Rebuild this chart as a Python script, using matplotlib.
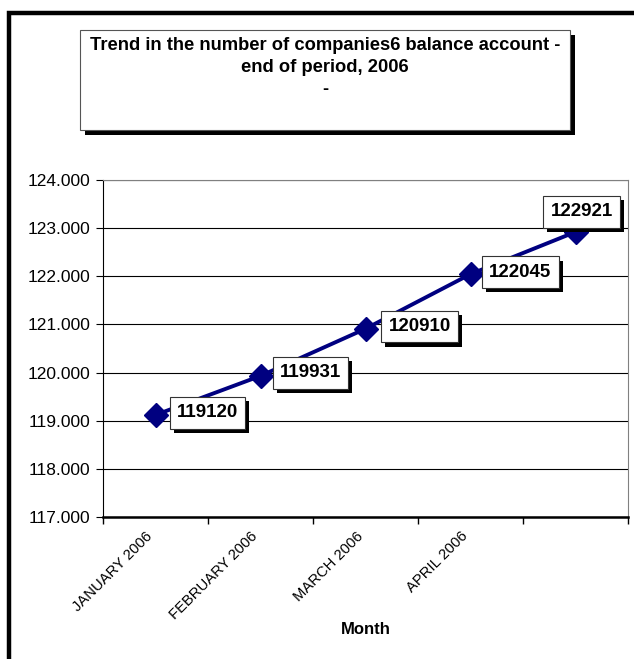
import matplotlib
matplotlib.use('Agg')
import matplotlib.pyplot as plt
import matplotlib.patheffects as pe
import matplotlib.transforms as mtransforms
from matplotlib.patches import Rectangle
from matplotlib.ticker import FuncFormatter, FixedLocator

plt.rcParams['font.family'] = ['Liberation Sans', 'DejaVu Sans']

months = ['JANUARY 2006', 'FEBRUARY 2006', 'MARCH 2006', 'APRIL 2006', '']
companies = [119120, 119931, 120910, 122045, 122921]
# label offsets in pixels (dx, dy) from each point
label_dx = [52, 50, 54, 50, 6]
label_dy = [2, 3, 2, 2, 20]

W, H = 634, 659
fig = plt.figure(figsize=(W / 100, H / 100), dpi=100)

def fx(px):
    return px / W

def fy(py):
    return 1 - py / H

# outer frame (right and bottom are cut off)
fig.patches.append(Rectangle((fx(9), fy(700)), fx(700), fy(13) - fy(700),
                             transform=fig.transFigure, fill=False,
                             edgecolor='black', linewidth=3.2))

# title box with shadow
bx0, by0, bx1, by1 = 80, 30, 570, 130
fig.patches.append(Rectangle((fx(bx0 + 5), fy(by1 + 5)), fx(bx1 - bx0), fy(by0) - fy(by1),
                             transform=fig.transFigure, facecolor='black',
                             edgecolor='black', linewidth=0))
fig.patches.append(Rectangle((fx(bx0), fy(by1)), fx(bx1 - bx0), fy(by0) - fy(by1),
                             transform=fig.transFigure, facecolor='white',
                             edgecolor='#555555', linewidth=0.8))
fig.text(fx(325), fy(45), 'Trend in the number of companies6 balance account -',
         ha='center', va='center', fontsize=13.2, fontweight='bold')
fig.text(fx(325), fy(67), 'end of period, 2006', ha='center', va='center',
         fontsize=13.2, fontweight='bold')
fig.text(fx(325), fy(90), '-', ha='center', va='center', fontsize=13.2,
         fontweight='bold')

ax = fig.add_axes([fx(103), fy(517), fx(628) - fx(103), fy(180) - fy(517)])
x = list(range(len(months)))
ax.plot(x, companies, color='#000080', linewidth=2.8, marker='D',
        markersize=12.5, zorder=3)

ax.set_xlim(-0.5, len(months) - 0.5)
ax.set_ylim(117000, 124000)
ax.yaxis.set_major_locator(FixedLocator(range(117000, 124001, 1000)))
ax.yaxis.set_major_formatter(FuncFormatter(lambda v, p: f'{v:,.0f}'.replace(',', '.')))
ax.grid(axis='y', color='black', linewidth=0.8)
ax.set_axisbelow(True)

# category ticks between the months
ax.set_xticks([i - 0.5 for i in range(len(months) + 1)], minor=False)
ax.set_xticklabels([])
ax.set_xticks(x, minor=True)
ax.set_xticklabels(months, minor=True, rotation=45, ha='right', va='bottom',
                   rotation_mode='anchor', fontsize=10.6)
shift = mtransforms.ScaledTranslation(-3 / 100, 0, fig.dpi_scale_trans)
for lab in ax.get_xticklabels(minor=True):
    lab.set_transform(lab.get_transform() + shift)
ax.tick_params(axis='x', which='major', direction='out', length=5, width=1)
ax.tick_params(axis='x', which='minor', length=0, pad=16)
ax.tick_params(axis='y', direction='out', length=5, labelsize=12.5, pad=4)

ax.spines['top'].set_color('#808080')
ax.spines['right'].set_color('#808080')
ax.spines['left'].set_color('black')
ax.spines['bottom'].set_linewidth(1.8)

ax.set_xlabel('Month', fontsize=12, fontweight='bold', labelpad=0)

for xi, yi, dx, dy in zip(x, companies, label_dx, label_dy):
    t = ax.annotate(f'{yi}', (xi, yi), xytext=(dx * 0.72, dy * 0.72),
                    textcoords='offset points', ha='center', va='center',
                    fontsize=13.5, fontweight='bold', color='black',
                    bbox=dict(boxstyle='square,pad=0.38', facecolor='white',
                              edgecolor='#333333', linewidth=0.8),
                    zorder=6, annotation_clip=False)
    t.get_bbox_patch().set_path_effects(
        [pe.SimplePatchShadow(offset=(3, -3), shadow_rgbFace='black', alpha=1),
         pe.Normal()])

fig.savefig('out.png', dpi=100)
